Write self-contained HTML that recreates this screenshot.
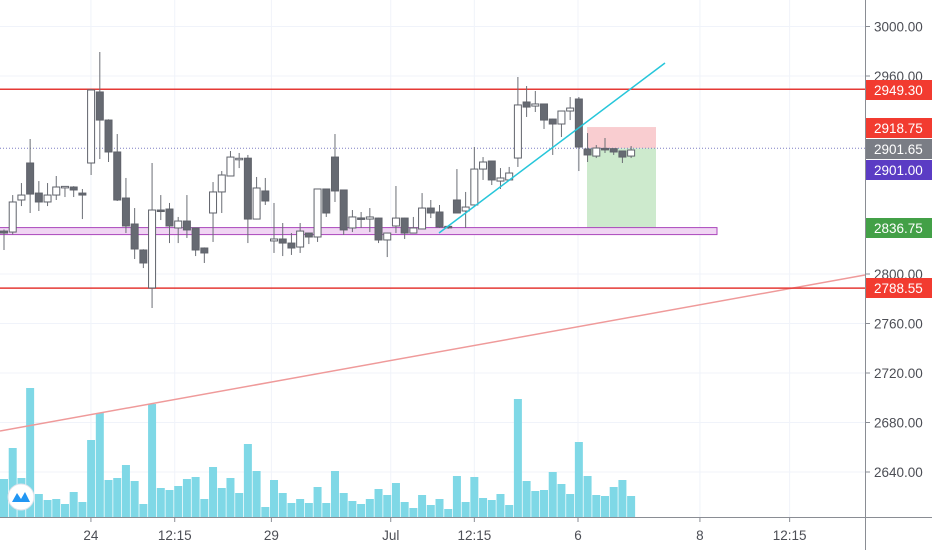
<!DOCTYPE html>
<html><head><meta charset="utf-8"><style>
html,body{margin:0;padding:0;background:#fff;}
svg{display:block;font-family:"Liberation Sans",sans-serif;}
</style></head><body>
<svg id="chart" width="932" height="550" xmlns="http://www.w3.org/2000/svg"></svg>
<script>
const opens  =[2834.7,2833.9,2859.8,2889.7,2865.4,2858.2,2863.8,2870.3,2870.3,2865.4,2889.7,2947.1,2924.4,2898.6,2861.4,2840.4,2819.4,2788.7,2851.7,2852.5,2837.2,2842.8,2837.2,2821,2849.3,2866.3,2879.2,2893,2893.6,2844.4,2867.1,2826.7,2828.3,2825,2821.8,2833.1,2829.9,2868.7,2894.5,2867.9,2837.2,2845.3,2844.4,2845.2,2827.5,2838.8,2845.2,2833.1,2836.4,2853.3,2850.1,2838.5,2859.8,2850.9,2855.8,2884.8,2891.3,2875.1,2876,2893.7,2939,2935.7,2937.4,2925.2,2921.2,2931.7,2941.4,2901,2895.3,2901.5,2901.3,2899.4,2895.3];
const highs  =[2836,2863.8,2873.5,2909.1,2875.1,2873.5,2879.2,2871,2871,2868.7,2949.5,2979.4,2925,2913.1,2877.6,2853.3,2820,2889.7,2863.8,2857.4,2846.1,2863.8,2837.5,2821.5,2874.3,2883.2,2899.4,2897.8,2896.2,2878.4,2877.6,2857.4,2841.2,2833.1,2841.2,2833.5,2869,2869,2913.1,2868,2851.7,2850.1,2853.3,2845.5,2833.5,2871.1,2845.5,2846.1,2865.4,2859.8,2855.8,2838.8,2884.8,2866.3,2902.6,2894.5,2891.5,2885.6,2886.5,2959.2,2951.9,2947.9,2937.5,2925.5,2932,2943,2943,2913.9,2904.2,2909.9,2901.5,2899.5,2903.4];
const lows   =[2819.4,2832,2854.9,2849.3,2850.9,2854.9,2859.8,2862.2,2862.2,2844.4,2880,2892.9,2890.5,2859,2833.1,2812.1,2804.8,2772.5,2843.6,2825,2825,2829.1,2814.5,2808.9,2825.9,2849.3,2879,2885.6,2825,2844,2855.8,2817,2814.5,2815.4,2817,2824.2,2825.9,2846.1,2858.2,2831.5,2833.9,2837.2,2833.9,2825,2813.7,2833.1,2828.3,2833,2836,2845.2,2837.2,2836.5,2849,2837.2,2855.5,2876,2871.9,2868.7,2875.5,2886.5,2926.9,2930.9,2917.2,2896.2,2910.7,2924.4,2883.2,2890.5,2893.7,2897.8,2896.2,2889.7,2893.7];
const closes =[2833.1,2858.2,2863.8,2864.6,2858.2,2863.8,2870.3,2870.8,2867.9,2863.8,2948.7,2924.4,2898.6,2859.8,2838.8,2820.2,2808.9,2851.7,2851.2,2838.8,2842.8,2835.6,2819.4,2817,2866.3,2880,2894.5,2893.5,2844.4,2869.5,2859,2828.3,2825,2821,2834.7,2829.9,2868.7,2849.3,2867.1,2835.6,2846.1,2845,2846.1,2827.5,2833.1,2845.2,2833.1,2837.2,2853.3,2849.3,2838,2837.5,2849.3,2854.1,2884.8,2890.5,2876,2877.6,2881.6,2936.6,2934.9,2937.4,2924.4,2921.2,2931.7,2934.1,2902.6,2896.2,2901.8,2901.2,2898.6,2894.5,2900.2];
const volumes=[38,69,39,129,23,17,18,13,25,15,77,104,37,39,52,36,13,113,29,27,31,38,40,18,50,29,39,24,73,46,10,37,24,14,18,14,30,14,46,24,16,13,18,28,22,34,15,9,22,12,18,8,41,15,40,19,17,23,12,118,36,26,27,45,33,23,75,41,22,21,30,37,21];
const priceTicks=[3000,2960,2800,2760,2720,2680,2640];
const timeLabels=["24","12:15","29","Jul","12:15","6","8","12:15"];
const timeIdx=[9.98,19.6,30.7,44.4,54,65.9,79.9,90.2];

const NS="http://www.w3.org/2000/svg";
const svg=document.getElementById('chart');
const y=p=>274-(p-2800)*1.2375;
const x=i=>4+i*8.71;
const vy=v=>517-v;
function el(t,a,parent){const e=document.createElementNS(NS,t);for(const k in a)e.setAttribute(k,a[k]);(parent||svg).appendChild(e);return e;}

// grid
timeIdx.forEach(t=>{const g=el('line',{x1:x(t),x2:x(t),y1:0,y2:517,stroke:'#f0f3fa','stroke-width':1});

});
priceTicks.forEach(p=>{const g=el('line',{x1:0,x2:865,y1:y(p),y2:y(p),stroke:'#f0f3fa','stroke-width':1});

});

// volume
volumes.forEach((v,i)=>{const r=el('rect',{x:x(i)-4,y:vy(v),width:8,height:v,fill:'#7fd8e6'});

});

// salmon long trendline
let l=el('line',{x1:0,y1:431,x2:865,y2:275,stroke:'#ef9a9a','stroke-width':1.5});



// position tool
let r1=el('rect',{x:587,y:y(2918.75),width:69,height:y(2901.65)-y(2918.75),fill:'#f9cdd0'});


let r2=el('rect',{x:587,y:y(2901.65),width:69,height:y(2836.75)-y(2901.65),fill:'#cdeacd'});



// support zone
let z=el('rect',{x:-1,y:y(2837.5),width:718,height:7,fill:'#f0d5f3',stroke:'#ab47bc','stroke-width':1});



// horizontal levels
[2949.3,2788.55].forEach(p=>{const h=el('line',{x1:0,x2:865,y1:y(p),y2:y(p),stroke:'#e53935','stroke-width':1.5});

});
let pl=el('line',{x1:0,x2:865,y1:y(2901.65),y2:y(2901.65),stroke:'#7e7fc4','stroke-width':1,'stroke-dasharray':'1,2'});



// candles
opens.forEach((o,i)=>{
  const c=closes[i],up=c>=o,cx=x(i);
  const w=el('line',{x1:cx,x2:cx,y1:y(highs[i]),y2:y(lows[i]),stroke:'#6b6e75','stroke-width':1});
  
  
  const top=y(Math.max(o,c)),bh=Math.max(1.5,Math.abs(y(o)-y(c)));
  const b=el('rect',{x:cx-3.5,y:top,width:7,height:bh,fill:up?'#ffffff':'#666a72',stroke:'#60636b','stroke-width':1});
  
  
});

// cyan trendline
let ct=el('line',{x1:439,y1:233,x2:665,y2:63,stroke:'#26c6da','stroke-width':1.5});



// axes
let ax=el('line',{x1:865.5,x2:865.5,y1:0,y2:550,stroke:'#8a8d94','stroke-width':1});


let bx=el('line',{x1:0,x2:932,y1:517.5,y2:517.5,stroke:'#8a8d94','stroke-width':1});



priceTicks.forEach(p=>{
  const t=el('line',{x1:865,x2:870,y1:y(p),y2:y(p),stroke:'#8a8d94'});
  
  
  const tx=el('text',{x:874,y:y(p)+5,'font-size':13.5,fill:'#4c4e55'});
  tx.textContent=p.toFixed(2);
  
  
});
timeLabels.forEach((s,k)=>{
  const t=el('line',{x1:x(timeIdx[k]),x2:x(timeIdx[k]),y1:517,y2:522,stroke:'#8a8d94'});
  
  
  const tx=el('text',{x:x(timeIdx[k]),y:540,'font-size':13.5,fill:'#4c4e55','text-anchor':'middle'});
  tx.textContent=s;
  
  
});

// price badges
const badgeVals=[2949.30,2918.75,2901.65,2901.00,2836.75,2788.55];
const badgeCols=['#f23b30','#f23b30','#7a7d85','#5b3cc4','#43a047','#f23b30'];
const badgeY=[90,128,149,170,228,288];
badgeVals.forEach((v,k)=>{
  const b=el('rect',{x:866,y:badgeY[k]-10,width:66,height:20,fill:badgeCols[k]});
  
  
  const t=el('text',{x:874,y:badgeY[k]+5,'font-size':13.5,fill:'#fff'});
  t.textContent=v.toFixed(2);
  
  
});

// logo
const lg=el('g',{});


el('circle',{cx:21,cy:497,r:13,fill:'#fff',stroke:'#e0e3eb'},lg);
el('path',{d:'M12 502 L17 493 L21 499 L25 492 L30 502 Z',fill:'#2196f3'},lg);
</script>
</body></html>
